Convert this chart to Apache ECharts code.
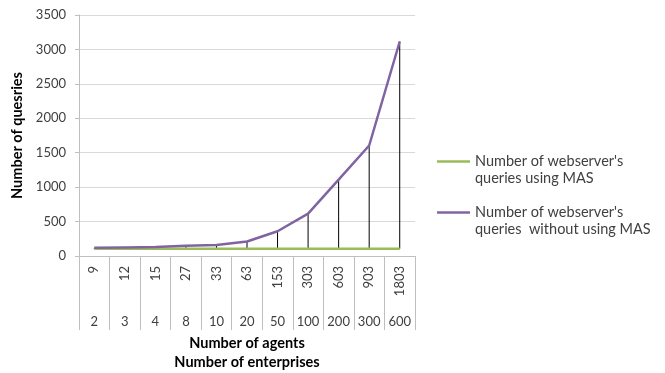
<!DOCTYPE html>
<html>
<head>
<meta charset="utf-8">
<script src="https://cdn.jsdelivr.net/npm/echarts@6/dist/echarts.min.js"></script>
<style>
html,body{margin:0;padding:0;background:#fff;}
#chart{width:665px;height:373px;}
</style>
</head>
<body>
<div id="chart"></div>
<script>
var agents = ['9','12','15','27','33','63','153','303','603','903','1803'];
var enterprises = ['2','3','4','8','10','20','50','100','200','300','600'];
var withMAS = [105,105,105,105,105,105,105,105,105,105,105];
var withoutMAS = [118,124,130,148,160,210,360,615,1110,1605,3115];
var yTicks = [0,500,1000,1500,2000,2500,3000,3500];
var seriesNames = ["Number of webserver's\nqueries using MAS", "Number of webserver's\nqueries  without using MAS"];
var seriesColors = ['#9bbb59', '#8064a2'];

var FONT = 'Lato, "Open Sans", sans-serif';
var chart = echarts.init(document.getElementById('chart'), null, {renderer:'canvas'});
chart.setOption({
  animation: false,
  backgroundColor: '#ffffff',
  textStyle: {fontFamily: FONT},
  grid: {left: 79, right: 250, top: 15, bottom: 117, containLabel: false, outerBoundsMode: 'none'},
  legend: {
    orient: 'vertical',
    left: 437,
    top: 136,
    padding: 0,
    itemWidth: 33,
    itemHeight: 2.5,
    itemGap: 0,
    icon: 'rect',
    formatter: function(name){ return '\n' + name; },
    textStyle: {fontFamily: FONT, fontSize: 14.5, color: '#404040', lineHeight: 17},
    data: [
      {name: seriesNames[0], icon: 'rect', itemStyle: {color: seriesColors[0]}},
      {name: seriesNames[1], icon: 'rect', itemStyle: {color: seriesColors[1]}}
    ]
  },
  xAxis: [{
    type: 'category',
    data: agents,
    position: 'bottom',
    boundaryGap: true,
    axisLine: {lineStyle: {color: '#bfbfbf', width: 1}},
    axisTick: {show: true, interval: 0, length: 74, lineStyle: {color: '#bfbfbf'}},
    axisLabel: {interval: 0, rotate: 90, margin: 10, fontSize: 13, color: '#404040', fontFamily: FONT}
  }, {
    type: 'category',
    data: enterprises,
    position: 'bottom',
    offset: 56,
    boundaryGap: true,
    axisLine: {show: false},
    axisTick: {show: false},
    axisLabel: {interval: 0, margin: 3, fontSize: 13, color: '#404040', fontFamily: FONT},
    name: 'Number of agents\nNumber of enterprises',
    nameLocation: 'middle',
    nameGap: 22,
    nameTextStyle: {fontSize: 14.5, fontWeight: 'bold', color: '#000', lineHeight: 19, fontFamily: FONT}
  }],
  yAxis: {
    type: 'value',
    min: 0,
    max: 3500,
    interval: 500,
    axisLine: {show: true, lineStyle: {color: '#bfbfbf'}},
    axisTick: {show: true, length: 4, lineStyle: {color: '#bfbfbf'}},
    splitLine: {lineStyle: {color: '#d9d9d9'}},
    axisLabel: {fontSize: 13, color: '#404040', margin: 13, fontFamily: FONT,
      formatter: function(v){ return yTicks.indexOf(v) >= 0 ? String(v) : ''; }},
    name: 'Number of quesries',
    nameLocation: 'middle',
    nameGap: 54,
    nameTextStyle: {fontSize: 14.5, fontWeight: 'bold', color: '#000', fontFamily: FONT}
  },
  series: [{
    name: 'drop',
    type: 'custom',
    xAxisIndex: 0,
    silent: true,
    z: 1,
    renderItem: function(params, api){
      var p1 = api.coord([api.value(0), api.value(1)]);
      var p2 = api.coord([api.value(0), api.value(2)]);
      return {type: 'line', shape: {x1: p1[0], y1: p1[1], x2: p2[0], y2: p2[1]},
        style: {stroke: '#000', lineWidth: 1}};
    },
    data: agents.map(function(a, i){ return [i, withMAS[i], withoutMAS[i]]; })
  }, {
    name: seriesNames[0],
    type: 'line',
    xAxisIndex: 0,
    data: withMAS,
    symbol: 'none',
    z: 3,
    lineStyle: {color: seriesColors[0], width: 2.5},
    itemStyle: {color: seriesColors[0]}
  }, {
    name: seriesNames[1],
    type: 'line',
    xAxisIndex: 0,
    data: withoutMAS,
    symbol: 'none',
    z: 4,
    lineStyle: {color: seriesColors[1], width: 2.5},
    itemStyle: {color: seriesColors[1]}
  }]
});
</script>
</body>
</html>
